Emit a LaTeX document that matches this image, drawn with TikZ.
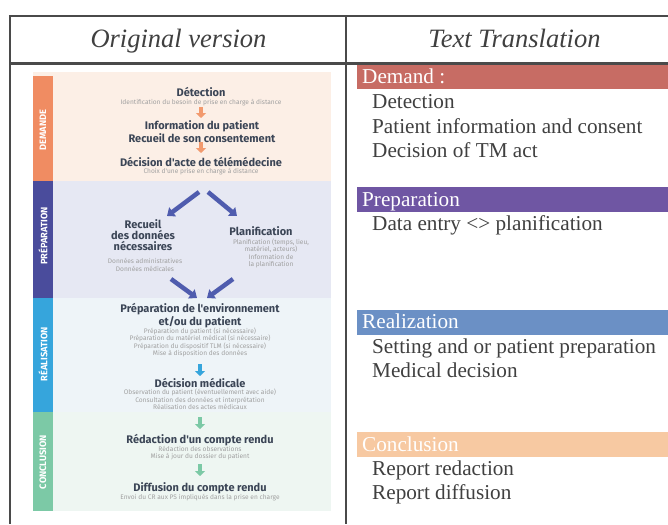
\documentclass[tikz,border=0pt]{standalone}
\usepackage{fontspec}
\setmainfont{Liberation Serif}
\newfontfamily\imgfont{Fira Sans}
\usetikzlibrary{arrows.meta}
\definecolor{rule}{HTML}{4A4A4A}
\definecolor{ink}{HTML}{404040}
\definecolor{dembar}{HTML}{C76C64}
\definecolor{prepbar}{HTML}{6F56A3}
\definecolor{realbar}{HTML}{6B90C5}
\definecolor{conbar}{HTML}{F7C9A2}
\definecolor{dembg}{HTML}{FCEFE6}
\definecolor{prepbg}{HTML}{E6E8F3}
\definecolor{realbg}{HTML}{EEF4F8}
\definecolor{conbg}{HTML}{EEF6F2}
\definecolor{demstrip}{HTML}{F08C62}
\definecolor{prepstrip}{HTML}{4A4C9C}
\definecolor{realstrip}{HTML}{36A5DC}
\definecolor{constrip}{HTML}{7CC9A6}
\definecolor{demarrow}{HTML}{F29A6E}
\definecolor{preparrow}{HTML}{4F5CAE}
\definecolor{titleink}{HTML}{3B4556}
\definecolor{subink}{HTML}{A0A0A0}
\tikzset{
  tline/.style={draw=rule, line width=2.4pt},
  header/.style={font=\fontsize{26.5}{30}\selectfont\itshape, text=ink, inner sep=0pt, anchor=base},
  bartext/.style={font=\fontsize{21.2}{24}\selectfont, text=white, inner sep=0pt, anchor=base west},
  item/.style={font=\fontsize{21.2}{24}\selectfont, text=ink, inner sep=0pt, anchor=base west},
  striptext/.style={font=\imgfont\bfseries\fontsize{9.3}{10}\selectfont, text=white, rotate=90, inner sep=0pt},
  ftitle/.style={font=\imgfont\bfseries\fontsize{11}{11}\selectfont, text=titleink, align=center, inner sep=0pt},
  fsub/.style={font=\imgfont\fontsize{6.6}{7.6}\selectfont, text=subink, align=center, inner sep=0pt},
  blockarrow/.style={draw=#1, line width=4pt, -{Triangle[width=10pt,length=5pt]}},
  bigarrow/.style={draw=preparrow, line width=4.5pt, -{Triangle[width=11pt,length=7pt]}},
}
\begin{document}
\begin{tikzpicture}[x=1pt,y=-1pt]
\useasboundingbox (0,0) rectangle (668,524);
\fill[white] (0,0) rectangle (668,524);

% ---------- left image ----------
\fill[dembg] (33,72) rectangle (331,181);
\fill[prepbg] (33,181) rectangle (331,298);
\fill[realbg] (33,298) rectangle (331,412);
\fill[conbg] (33,412) rectangle (331,511);
\fill[demstrip] (33,76) rectangle (53,181);
\fill[prepstrip] (33,181) rectangle (53,298);
\fill[realstrip] (33,298) rectangle (53,412);
\fill[constrip] (33,412) rectangle (53,511);
\node[striptext] (sdem) at (43,130) {DEMANDE};
\node[striptext] (sprep) at (43,236) {PRÉPARATION};
\node[striptext] (sreal) at (43,354) {RÉALISATION};
\node[striptext] (scon) at (43,462) {CONCLUSION};

% Demande
\node[ftitle] (det) at (201,92.5) {Détection};
\node[fsub] (detsub) at (201,102.5) {Identification du besoin de prise en charge à distance};
\node[ftitle] (info) at (202,131.5) {Information du patient\\Recueil de son consentement};
\node[ftitle] (dec) at (201,161.5) {Décision d'acte de télémédecine};
\node[fsub] (decsub) at (201,171.5) {Choix d'une prise en charge à distance};
\coordinate (a1s) at (201,107);
\coordinate (a1e) at (201,118);
\coordinate (a2s) at (201,142);
\coordinate (a2e) at (201,153);
\draw[blockarrow=demarrow] (a1s) -- (a1e);
\draw[blockarrow=demarrow] (a2s) -- (a2e);

% Preparation
\coordinate (p1s) at (199,192);
\coordinate (p1e) at (167,216);
\coordinate (p2s) at (208,192);
\coordinate (p2e) at (237,216);
\draw[bigarrow] (p1s) -- (p1e);
\draw[bigarrow] (p2s) -- (p2e);
\node[ftitle] (rec) at (143,235) {Recueil\\des données\\nécessaires};
\node[fsub] (recsub) at (145,265) {Données administratives\\Données médicales};
\node[ftitle] (plan) at (261,231) {Planification};
\node[fsub] (plansub) at (271,253.5) {Planification (temps, lieu,\\matériel, acteurs)\\Information de\\la planification};
\coordinate (p3s) at (171,279);
\coordinate (p3e) at (197,298);
\coordinate (p4s) at (233,279);
\coordinate (p4e) at (207,298);
\draw[bigarrow] (p3s) -- (p3e);
\draw[bigarrow] (p4s) -- (p4e);

% Realisation
\node[ftitle] (env) at (200,315.5) {Préparation de l'environnement\\et/ou du patient};
\node[fsub] (envsub) at (200,342.5) {Préparation du patient (si nécessaire)\\Préparation du matériel médical (si nécessaire)\\Préparation du dispositif TLM (si nécessaire)\\Mise à disposition des données};
\coordinate (a3s) at (200,364);
\coordinate (a3e) at (200,376);
\draw[blockarrow=realstrip] (a3s) -- (a3e);
\node[ftitle] (med) at (200,383) {Décision médicale};
\node[fsub] (medsub) at (200,399.5) {Observation du patient (éventuellement avec aide)\\Consultation des données et interprétation\\Réalisation des actes médicaux};

% Conclusion
\coordinate (a4s) at (200,417);
\coordinate (a4e) at (200,429);
\draw[blockarrow=constrip] (a4s) -- (a4e);
\node[ftitle] (red) at (200,440) {Rédaction d'un compte rendu};
\node[fsub] (redsub) at (200,453) {Rédaction des observations\\Mise à jour du dossier du patient};
\coordinate (a5s) at (200,464);
\coordinate (a5e) at (200,476);
\draw[blockarrow=constrip] (a5s) -- (a5e);
\node[ftitle] (dif) at (200,488) {Diffusion du compte rendu};
\node[fsub] (difsub) at (200,498) {Envoi du CR aux PS impliqués dans la prise en charge};

% ---------- right column ----------
\fill[dembar] (357,65) rectangle (668,89);
\fill[prepbar] (357,187) rectangle (668,212);
\fill[realbar] (357,310) rectangle (668,335);
\fill[conbar] (357,432) rectangle (668,457);
\node[bartext] (bdem) at (362,83.5) {Demand :};
\node[item] (i1) at (372,108) {Detection};
\node[item] (i2) at (372,133) {Patient information and consent};
\node[item] (i3) at (372,157) {Decision of TM act};
\node[bartext] (bprep) at (362,206) {Preparation};
\node[item] (i4) at (372,230) {Data entry <> planification};
\node[bartext] (breal) at (362,328.5) {Realization};
\node[item] (i5) at (372,353) {Setting and or patient preparation};
\node[item] (i6) at (372,377) {Medical decision};
\node[bartext] (bcon) at (362,451) {Conclusion};
\node[item] (i7) at (372,475) {Report redaction};
\node[item] (i8) at (372,499.5) {Report diffusion};

% ---------- table rules ----------
\node[header] (h1) at (178.5,48) {Original version};
\node[header] (h2) at (514.5,48) {Text Translation};
\draw[tline] (8.8,16) -- (668,16);
\draw[tline] (10,63.5) -- (668,63.5);
\draw[tline] (10,16) -- (10,524);
\draw[tline] (346,16) -- (346,524);
\end{tikzpicture}
\end{document}
